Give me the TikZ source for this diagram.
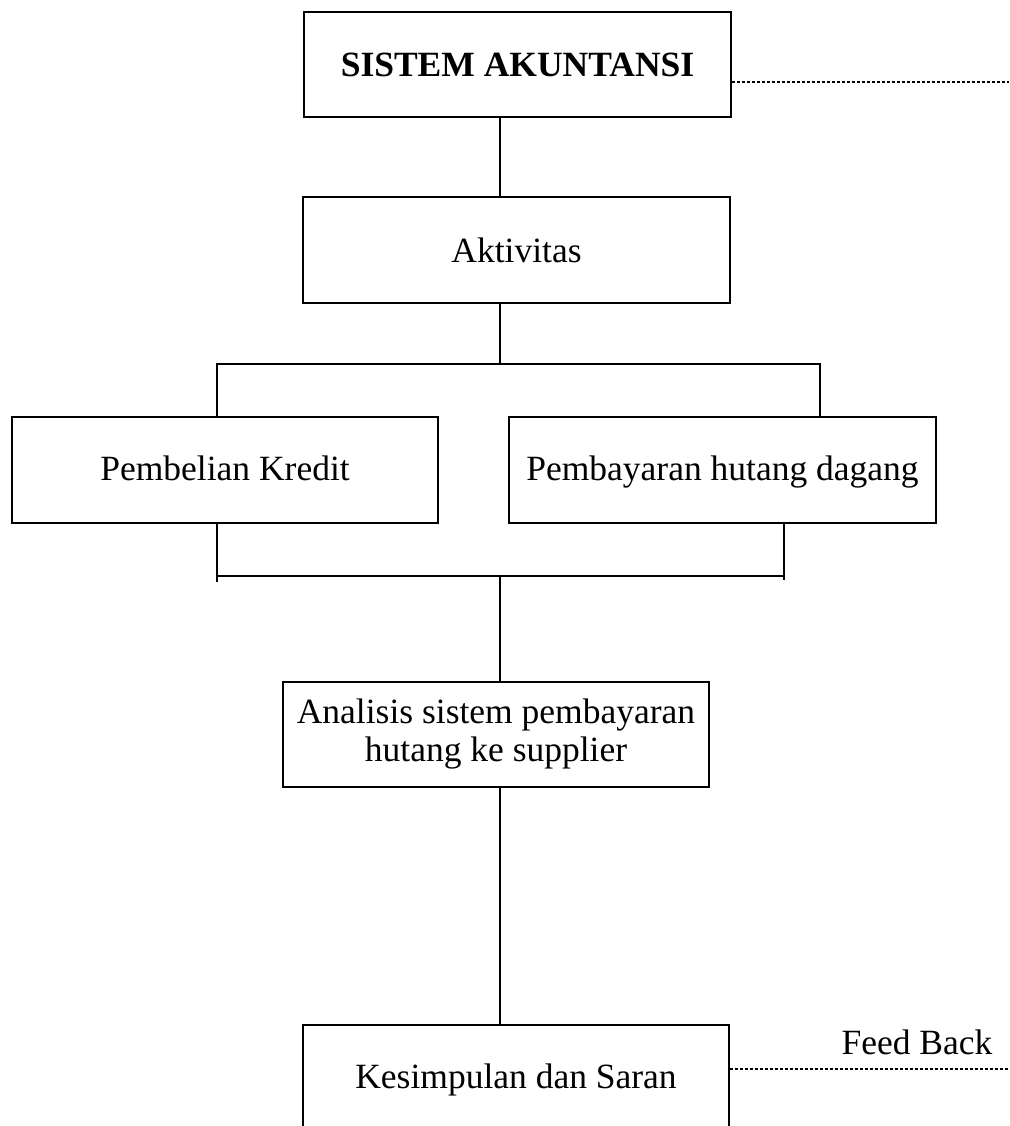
\documentclass[tikz,border=0pt]{standalone}
\usepackage{fontspec}
\setmainfont{Liberation Serif}
\begin{document}
\begin{tikzpicture}[x=1pt,y=-1pt,
  stepbox/.style={draw=black, line width=1.4pt, inner sep=0pt, align=center,
    minimum width=427pt, minimum height=106pt,
    font=\fontsize{35.5}{38}\selectfont},
  oneline/.style={text height=27pt, text depth=7pt},
  link/.style={draw=black, line width=1.3pt},
  fb/.style={draw=black, line width=1.3pt, dash pattern=on 3pt off 2pt}]
  \useasboundingbox (0,0) rectangle (1009,1126);

  % boxes
  \node[stepbox, minimum height=105pt] (B1) at (517.5,64.5) {\textbf{SISTEM AKUNTANSI}};
  \node[stepbox] (B2) at (516.5,250) {Aktivitas};
  \node[stepbox, oneline, minimum width=426pt] (B3) at (225,470) {Pembelian Kredit};
  \node[stepbox, oneline] (B4) at (722.5,470) {Pembayaran hutang dagang};
  \node[stepbox, minimum width=426pt, minimum height=105pt] (B5) at (496,734.5)
    {Analisis sistem pembayaran\\hutang ke supplier};
  \node[stepbox, minimum width=426pt, minimum height=110pt] (B6) at (516,1080)
    {Kesimpulan dan Saran};
  \node[font=\fontsize{35.5}{38}\selectfont, inner sep=0pt] (FB) at (917,1042) {Feed Back};

  % junction points
  \coordinate (trunk) at (500,0);
  \coordinate (jt) at (500,364);
  \coordinate (jtl) at (217,364);
  \coordinate (jtr) at (820,364);
  \coordinate (jb) at (500,576);
  \coordinate (jbl) at (217,576);
  \coordinate (jbr) at (784,576);
  \coordinate (jblend) at (217,582);
  \coordinate (jbrend) at (784,580);
  \coordinate (d1) at (1009,82);
  \coordinate (d2) at (1009,1069);

  % connectors
  \draw[link] (B1.south -| trunk) -- (B2.north -| trunk);
  \draw[link] (B2.south -| trunk) -- (jt);
  \draw[link] (B3.north -| jtl) -- (jtl) -- (jtr) -- (B4.north -| jtr);
  \draw[link] (B3.south -| jbl) -- (jblend);
  \draw[link] (B4.south -| jbr) -- (jbrend);
  \draw[link] (jbl) -- (jbr);
  \draw[link] (jb) -- (B5.north -| trunk);
  \draw[link] (B5.south -| trunk) -- (B6.north -| trunk);

  % feedback lines
  \draw[fb] (B1.east |- d1) -- (d1);
  \draw[fb] (B6.east |- d2) -- (d2);
\end{tikzpicture}
\end{document}
